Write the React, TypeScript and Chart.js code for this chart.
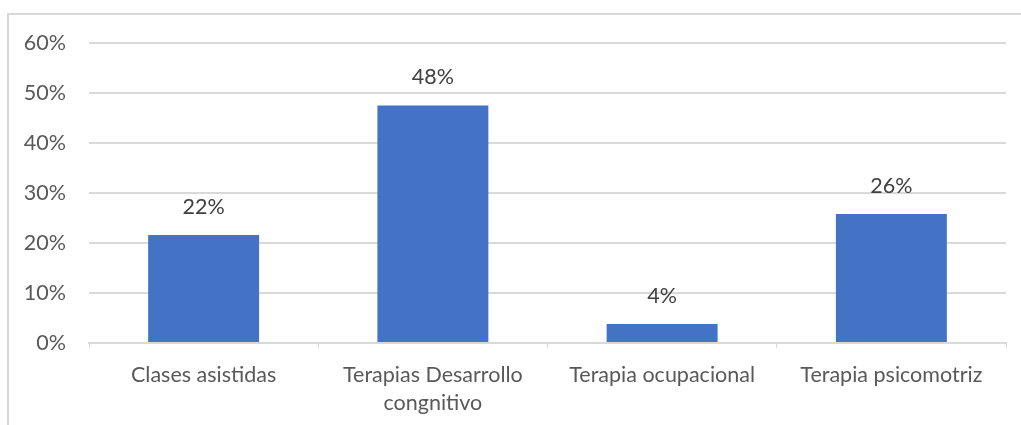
import React, { useEffect, useRef } from "react";
import { Chart, registerables } from "chart.js";

Chart.register(...registerables);

const categories: (string | string[])[] = [
  "Clases asistidas",
  ["Terapias Desarrollo", "congnitivo"],
  "Terapia ocupacional",
  "Terapia psicomotriz",
];
const values = [21.6, 47.5, 3.8, 25.8];
const yTicks = [0, 10, 20, 30, 40, 50, 60];

const FONT = "Lato, 'Noto Sans', sans-serif";
const FS = 21.5;

const labelPlugin = {
  id: "barLabels",
  afterDatasetsDraw(chart: any) {
    const ctx = chart.ctx;
    const meta = chart.getDatasetMeta(0);
    ctx.save();
    ctx.font = `${FS}px ${FONT}`;
    ctx.fillStyle = "#404040";
    ctx.textAlign = "center";
    ctx.textBaseline = "middle";
    meta.data.forEach((bar: any, i: number) => {
      ctx.fillText(Math.round(values[i]) + "%", bar.x, bar.y - 28);
    });
    ctx.restore();
  },
};

export default function App() {
  const ref = useRef<HTMLCanvasElement>(null);
  useEffect(() => {
    if (!ref.current) return;
    const chart = new Chart(ref.current, {
      type: "bar",
      data: {
        labels: categories,
        datasets: [
          {
            data: values,
            backgroundColor: "#4472C4",
            barPercentage: 0.484,
            categoryPercentage: 1,
          },
        ],
      },
      options: {
        animation: false,
        responsive: false,
        maintainAspectRatio: false,
        layout: { padding: { top: 43, left: 0, right: 15, bottom: 0 } },
        plugins: { legend: { display: false }, tooltip: { enabled: false } },
        scales: {
          x: {
            grid: {
              drawOnChartArea: false,
              drawTicks: true,
              tickLength: 5,
              color: "#d9d9d9",
              lineWidth: 1,
            },
            border: { color: "#d9d9d9", width: 2 },
            ticks: {
              color: "#595959",
              font: { family: FONT, size: FS, lineHeight: 28 / FS },
              padding: 13,
              maxRotation: 0,
              autoSkip: false,
            },
            afterFit(scale: any) {
              scale.height = 82;
            },
          },
          y: {
            min: 0,
            max: 60,
            afterBuildTicks(scale: any) {
              scale.ticks = yTicks.map((v) => ({ value: v }));
            },
            grid: { color: "#d9d9d9", drawTicks: false, lineWidth: 2 },
            border: { display: false },
            ticks: {
              color: "#595959",
              font: { family: FONT, size: FS },
              padding: 23,
              callback: (v: any) => v + "%",
            },
            afterFit(scale: any) {
              scale.width = 89;
            },
          },
        },
      },
      plugins: [labelPlugin],
    });
    return () => chart.destroy();
  }, []);
  return (
    <div>
      <div
        style={{
          position: "fixed",
          left: 7,
          top: 13,
          width: 1100,
          height: 500,
          border: "2px solid #d9d9d9",
          boxSizing: "border-box",
        }}
      />
      <canvas
        ref={ref}
        width={1021}
        height={425}
        style={{ position: "fixed", left: 0, top: 0, width: 1021, height: 425 }}
      />
    </div>
  );
}
